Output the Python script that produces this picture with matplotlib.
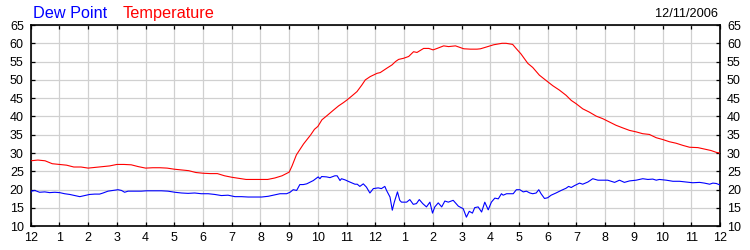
import matplotlib
matplotlib.use("Agg")
import matplotlib.pyplot as plt

plt.rcParams['font.family'] = ['Liberation Sans', 'DejaVu Sans']

# Hours since midnight and values (deg F)
temp_hours = [0, 0.25, 0.5, 0.75, 1, 1.25, 1.5, 1.75, 2, 2.25, 2.5, 2.75, 3, 3.25, 3.5, 3.75,
              4, 4.25, 4.5, 4.75, 5, 5.25, 5.5, 5.75, 6, 6.25, 6.5, 6.75, 7, 7.25, 7.5, 7.75,
              8, 8.25, 8.5, 8.75, 9, 9.1, 9.25, 9.5, 9.75, 9.88, 10.0, 10.14, 10.31, 10.55,
              10.72, 10.89, 11.01, 11.18, 11.36, 11.53, 11.65, 11.82, 12.06, 12.17, 12.40,
              12.58, 12.70, 12.81, 12.98, 13.16, 13.33, 13.45, 13.68, 13.86, 14.01, 14.15,
              14.38, 14.55, 14.79, 15.08, 15.31, 15.54, 15.66, 15.83, 16.12, 16.41, 16.55,
              16.78, 16.9, 17.07, 17.31, 17.48, 17.71, 18.0, 18.18, 18.41, 18.64, 18.82,
              18.99, 19.22, 19.45, 19.69, 19.92, 20.15, 20.38, 20.61, 20.85, 21.08, 21.31,
              21.54, 21.78, 22.01, 22.24, 22.47, 22.71, 22.94, 23.23, 23.46, 23.69, 23.87, 24.0]
temp_values = [27.9, 28.1, 27.9, 27.1, 26.9, 26.7, 26.2, 26.2, 25.9, 26.1, 26.3, 26.5, 26.9, 26.9,
               26.8, 26.3, 25.9, 26.0, 26.0, 25.9, 25.6, 25.4, 25.2, 24.7, 24.5, 24.4, 24.4, 23.8,
               23.4, 23.1, 22.8, 22.8, 22.8, 22.8, 23.2, 23.8, 24.8, 26.5, 29.5, 32.5, 35.0, 36.5,
               37.3, 39.1, 40.2, 41.8, 42.9, 43.8, 44.5, 45.6, 46.8, 48.6, 50.0, 50.9, 51.8, 52.0,
               53.2, 54.1, 55.0, 55.6, 55.9, 56.4, 57.7, 57.5, 58.6, 58.6, 58.2, 58.6, 59.3, 59.1,
               59.3, 58.5, 58.4, 58.4, 58.5, 58.9, 59.6, 60.0, 60.0, 59.7, 58.6, 57.1, 54.5, 53.4,
               51.3, 49.5, 48.4, 47.2, 45.8, 44.4, 43.5, 42.1, 41.2, 40.1, 39.4, 38.5, 37.6, 36.9,
               36.2, 35.8, 35.3, 35.1, 34.2, 33.7, 33.1, 32.7, 32.1, 31.6, 31.5, 31.1, 30.7, 30.2,
               30.0]

dew_hours = [0, 0.02, 0.14, 0.31, 0.49, 0.66, 0.84, 1.01, 1.18, 1.36, 1.53, 1.71, 1.88, 2.05,
             2.23, 2.40, 2.52, 2.69, 2.87, 3.04, 3.16, 3.27, 3.39, 3.62, 3.85, 4.03, 4.32, 4.55,
             4.78, 5.02, 5.25, 5.48, 5.71, 5.94, 6.18, 6.41, 6.64, 6.87, 7.11, 7.34, 7.57, 7.80,
             8.04, 8.27, 8.50, 8.68, 8.91, 9.03, 9.14, 9.26, 9.37, 9.49, 9.61, 9.84, 10.01, 10.07,
             10.13, 10.30, 10.42, 10.59, 10.67, 10.77, 10.82, 10.94, 11.11, 11.29, 11.37, 11.46,
             11.58, 11.69, 11.81, 11.93, 12.10, 12.21, 12.33, 12.39, 12.51, 12.59, 12.66, 12.77,
             12.85, 12.91, 13.09, 13.20, 13.32, 13.43, 13.53, 13.65, 13.78, 13.90, 13.99, 14.07,
             14.19, 14.31, 14.42, 14.54, 14.71, 14.89, 15.06, 15.17, 15.27, 15.38, 15.46, 15.58,
             15.70, 15.81, 15.93, 16.04, 16.16, 16.28, 16.39, 16.45, 16.57, 16.80, 16.91, 17.03,
             17.15, 17.26, 17.38, 17.48, 17.60, 17.69, 17.77, 17.89, 18.0, 18.12, 18.29, 18.47,
             18.64, 18.73, 18.82, 18.93, 19.11, 19.22, 19.40, 19.57, 19.75, 19.92, 20.09, 20.33,
             20.50, 20.67, 20.85, 21.08, 21.31, 21.49, 21.66, 21.78, 21.89, 22.13, 22.36, 22.59,
             22.82, 23.05, 23.29, 23.46, 23.64, 23.75, 23.87, 24.0]
dew_values = [19.2, 19.6, 19.8, 19.3, 19.4, 19.2, 19.3, 19.2, 18.9, 18.7, 18.4, 18.1, 18.4, 18.7,
              18.8, 18.8, 19.1, 19.6, 19.8, 20.0, 19.8, 19.3, 19.6, 19.6, 19.6, 19.7, 19.7, 19.7,
              19.6, 19.3, 19.1, 19.0, 19.1, 18.9, 18.9, 18.7, 18.4, 18.5, 18.1, 18.1, 18.0, 18.0,
              18.0, 18.2, 18.6, 18.9, 18.9, 19.3, 20.0, 19.8, 21.4, 21.4, 21.6, 22.5, 23.5, 23.0,
              23.6, 23.5, 23.3, 23.8, 23.8, 22.5, 23.0, 22.7, 22.1, 21.5, 21.5, 20.9, 21.6, 20.7,
              19.1, 20.3, 20.5, 20.3, 20.9, 19.8, 18.0, 14.4, 16.6, 19.4, 17.1, 16.6, 16.6, 17.3,
              16.0, 16.2, 17.3, 16.2, 15.3, 16.6, 13.6, 15.3, 16.4, 15.3, 16.9, 16.6, 17.1, 15.5,
              14.8, 12.5, 14.1, 13.6, 15.1, 15.3, 13.9, 16.6, 14.5, 16.6, 17.7, 17.5, 18.9, 18.5,
              18.9, 18.9, 20.0, 20.0, 19.4, 19.6, 19.1, 18.9, 19.1, 20.0, 18.9, 17.6, 17.8, 18.5,
              19.1, 19.8, 20.4, 20.9, 20.6, 21.1, 21.8, 21.5, 22.1, 23.0, 22.6, 22.6, 22.6, 22.0,
              22.6, 22.0, 22.4, 22.6, 23.0, 22.8, 22.9, 22.6, 22.8, 22.6, 22.3, 22.3, 22.1, 21.9,
              22.0, 21.8, 21.5, 21.8, 21.7, 21.3]

x_ticks = list(range(0, 25))
x_labels = ['12', '1', '2', '3', '4', '5', '6', '7', '8', '9', '10', '11',
            '12', '1', '2', '3', '4', '5', '6', '7', '8', '9', '10', '11', '12']
y_ticks = list(range(10, 66, 5))
date_label = '12/11/2006'

fig = plt.figure(figsize=(7.5, 2.5), dpi=100)
ax = fig.add_axes([30.7 / 750, 1 - 226.3 / 250, (720 - 30.7) / 750, (226.3 - 25) / 250])

ax.plot(temp_hours, temp_values, color='#ff0000', lw=0.8, zorder=3)
ax.plot(dew_hours, dew_values, color='#0000ff', lw=0.8, zorder=3)

ax.set_xlim(0, 24)
ax.set_ylim(10, 65)
ax.set_xticks(x_ticks)
ax.set_xticklabels(x_labels)
ax.set_yticks(y_ticks)
ax.grid(True, color='#d0d0d0', lw=0.9)
ax.set_axisbelow(True)

ax.tick_params(axis='both', direction='in', length=3.2, width=0.9, color='black',
               labelsize=9, top=True, right=True, labelright=True)
ax.tick_params(axis='x', pad=4)
ax.tick_params(axis='y', pad=5)
for s in ax.spines.values():
    s.set_linewidth(1.2)
    s.set_color('black')

fig.text(33 / 750, 1 - 17.7 / 250, 'Dew Point', color='#0000ff', fontsize=11.7, va='baseline', ha='left')
fig.text(123 / 750, 1 - 17.7 / 250, 'Temperature', color='#ff0000', fontsize=11.7, va='baseline', ha='left')
fig.text(718 / 750, 1 - 17.3 / 250, date_label, color='black', fontsize=9.2, va='baseline', ha='right')

fig.savefig('out.png', dpi=100)
